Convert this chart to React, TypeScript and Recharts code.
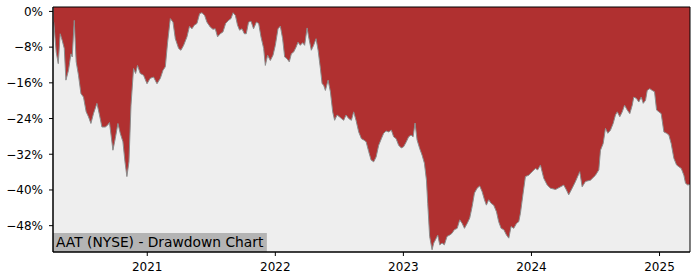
import React from "react";
import { Area, AreaChart, CartesianGrid, ReferenceArea, XAxis, YAxis } from "recharts";

// decimal year of each sample
const years = [
  2020.27, 2020.289, 2020.305, 2020.32, 2020.336, 2020.352, 2020.365, 2020.385, 2020.404, 2020.414,
  2020.43, 2020.445, 2020.463, 2020.482, 2020.502, 2020.523, 2020.541, 2020.56, 2020.58, 2020.607,
  2020.627, 2020.646, 2020.672, 2020.69, 2020.705, 2020.719, 2020.732, 2020.75, 2020.771, 2020.789,
  2020.81, 2020.826, 2020.841, 2020.857, 2020.873, 2020.893, 2020.909, 2020.924, 2020.945, 2020.971,
  2020.998, 2021.023, 2021.049, 2021.076, 2021.102, 2021.123, 2021.141, 2021.159, 2021.18, 2021.201,
  2021.219, 2021.245, 2021.263, 2021.284, 2021.31, 2021.33, 2021.349, 2021.367, 2021.388, 2021.409,
  2021.427, 2021.448, 2021.466, 2021.492, 2021.513, 2021.531, 2021.549, 2021.57, 2021.591, 2021.612,
  2021.635, 2021.654, 2021.67, 2021.688, 2021.705, 2021.721, 2021.74, 2021.758, 2021.773, 2021.791,
  2021.81, 2021.83, 2021.852, 2021.87, 2021.888, 2021.909, 2021.922, 2021.94, 2021.961, 2021.982,
  2022.0, 2022.021, 2022.039, 2022.057, 2022.073, 2022.091, 2022.109, 2022.125, 2022.143, 2022.162,
  2022.177, 2022.195, 2022.213, 2022.229, 2022.248, 2022.26, 2022.281, 2022.299, 2022.318, 2022.334,
  2022.352, 2022.365, 2022.377, 2022.391, 2022.412, 2022.43, 2022.448, 2022.463, 2022.482, 2022.5,
  2022.516, 2022.534, 2022.552, 2022.573, 2022.594, 2022.612, 2022.63, 2022.651, 2022.672, 2022.69,
  2022.709, 2022.729, 2022.748, 2022.768, 2022.787, 2022.807, 2022.828, 2022.846, 2022.865, 2022.885,
  2022.906, 2022.924, 2022.943, 2022.963, 2022.984, 2023.002, 2023.023, 2023.041, 2023.06, 2023.076,
  2023.091, 2023.107, 2023.127, 2023.146, 2023.164, 2023.18, 2023.19, 2023.205, 2023.224, 2023.237,
  2023.25, 2023.268, 2023.284, 2023.302, 2023.32, 2023.341, 2023.362, 2023.38, 2023.398, 2023.42,
  2023.44, 2023.459, 2023.477, 2023.498, 2023.518, 2023.537, 2023.555, 2023.576, 2023.596, 2023.615,
  2023.633, 2023.648, 2023.666, 2023.685, 2023.705, 2023.727, 2023.744, 2023.763, 2023.784, 2023.805,
  2023.823, 2023.841, 2023.862, 2023.883, 2023.901, 2023.914, 2023.935, 2023.953, 2023.979, 2024.005,
  2024.031, 2024.049, 2024.07, 2024.096, 2024.123, 2024.148, 2024.188, 2024.227, 2024.252, 2024.273,
  2024.291, 2024.318, 2024.344, 2024.377, 2024.396, 2024.422, 2024.461, 2024.5, 2024.526, 2024.539,
  2024.56, 2024.578, 2024.596, 2024.617, 2024.638, 2024.656, 2024.67, 2024.69, 2024.709, 2024.727,
  2024.748, 2024.768, 2024.787, 2024.799, 2024.82, 2024.838, 2024.857, 2024.873, 2024.891, 2024.904,
  2024.924, 2024.943, 2024.961, 2024.977, 2024.995, 2025.013, 2025.034, 2025.055, 2025.073, 2025.091,
  2025.112, 2025.133, 2025.151, 2025.17, 2025.19, 2025.203, 2025.221, 2025.242,
];

// drawdown from the running peak, in percent
const drawdown = [
  -2.4, -9.1, -11.7, -5.0, -6.5, -8.3, -15.4, -13.2, -9.5, -10.2,
  -2.0, -11.3, -14.3, -18.4, -19.2, -22.5, -23.6, -25.1, -22.9, -20.6,
  -23.2, -25.9, -25.9, -25.5, -24.9, -28.1, -31.1, -28.5, -25.1, -27.3,
  -29.2, -33.7, -37.0, -33.7, -21.0, -12.8, -13.9, -12.1, -13.9, -14.3,
  -16.2, -15.0, -14.7, -16.2, -15.0, -13.2, -12.4, -6.9, -1.6, -2.4,
  -6.1, -8.3, -8.7, -7.6, -5.7, -3.3, -3.9, -3.1, -2.7, -0.5,
  -0.3, -0.9, -2.4, -3.5, -4.0, -3.9, -5.7, -5.0, -4.6, -2.7,
  -2.0, -1.6, -0.3, -0.9, -3.1, -4.2, -3.9, -5.0, -5.0, -2.4,
  -2.2, -3.9, -2.4, -2.7, -5.7, -8.3, -12.1, -9.8, -11.0, -9.8,
  -7.6, -3.9, -3.3, -6.1, -10.2, -10.6, -11.3, -9.5, -9.1, -8.0,
  -6.9, -7.6, -7.0, -7.6, -3.7, -5.7, -8.7, -7.6, -6.1, -8.7,
  -12.8, -16.2, -16.5, -17.7, -15.4, -18.0, -22.5, -24.4, -23.2, -23.6,
  -24.0, -24.4, -23.2, -24.0, -24.4, -22.5, -24.4, -27.0, -28.5, -28.8,
  -29.2, -31.4, -33.3, -33.7, -32.6, -30.0, -28.5, -27.3, -26.8, -27.0,
  -26.6, -28.1, -28.5, -30.0, -30.6, -30.3, -29.2, -28.1, -27.7, -28.1,
  -25.0, -28.8, -30.7, -32.2, -34.0, -37.8, -43.0, -50.4, -53.4, -51.9,
  -51.2, -50.1, -52.3, -51.9, -52.3, -50.4, -50.1, -49.7, -48.9, -48.6,
  -46.7, -47.5, -48.6, -47.5, -46.3, -43.7, -40.7, -39.6, -39.1, -40.4,
  -42.2, -43.4, -42.2, -43.0, -43.4, -44.9, -47.1, -48.6, -48.9, -50.1,
  -50.8, -48.2, -48.6, -47.5, -47.1, -45.2, -40.7, -37.0, -36.7, -35.9,
  -35.2, -35.5, -34.4, -37.4, -38.9, -39.6, -39.9, -39.3, -38.9, -40.0,
  -41.1, -39.6, -38.1, -35.9, -39.3, -38.1, -37.8, -36.7, -35.5, -31.1,
  -29.6, -26.2, -27.3, -26.6, -25.1, -23.2, -22.5, -23.6, -22.5, -21.0,
  -22.1, -22.9, -21.0, -19.2, -19.5, -20.3, -19.2, -20.6, -19.9, -17.7,
  -17.3, -17.7, -18.0, -22.1, -22.5, -22.9, -27.0, -27.3, -27.7, -29.6,
  -32.9, -34.4, -34.8, -35.2, -36.7, -38.5, -38.9, -38.7,
];

const yearTicks = [2021, 2022, 2023, 2024, 2025];
const pctTicks = [0, -8, -16, -24, -32, -40, -48];

const data = years.map((t, i) => ({ t, dd: drawdown[i] }));

const X_MIN = 2020.264;
const X_MAX = 2025.238;
const Y_MIN = -53.9;
const Y_MAX = 0.99;

const font = "DejaVu Sans, sans-serif";
const tickStyle = { fill: "#000", fontSize: 12, fontFamily: font };

const fmtPct = (v: number) => (v === 0 ? "0%" : `\u2212${Math.abs(v)}%`);

export default function App() {
  return (
    <div style={{ position: "absolute", left: 0, top: 0, width: 700, height: 280, background: "#fff" }}>
      <AreaChart width={700} height={280} data={data} margin={{ top: 7, right: 10, bottom: 0, left: 0 }}>
        <CartesianGrid fill="#eeeeee" horizontal={false} vertical={false} />
        <XAxis
          dataKey="t"
          type="number"
          domain={[X_MIN, X_MAX]}
          ticks={yearTicks}
          allowDataOverflow
          height={28}
          tickSize={4}
          tickMargin={6}
          tick={tickStyle}
          axisLine={{ stroke: "#000" }}
          tickLine={{ stroke: "#000" }}
        />
        <YAxis
          type="number"
          domain={[Y_MIN, Y_MAX]}
          ticks={pctTicks}
          allowDataOverflow
          width={53}
          tickSize={4}
          tickMargin={6}
          tickFormatter={fmtPct}
          tick={tickStyle}
          axisLine={{ stroke: "#000" }}
          tickLine={{ stroke: "#000" }}
        />
        <Area
          dataKey="dd"
          type="linear"
          baseValue="dataMax"
          fill="#b03030"
          fillOpacity={1}
          stroke="#8c8c8c"
          strokeWidth={1}
          isAnimationActive={false}
          dot={false}
          activeDot={false}
        />
        <ReferenceArea
          x1={X_MIN}
          x2={2021.934}
          y1={Y_MIN}
          y2={-49.64}
          fill="#b4b4b4"
          fillOpacity={1}
          stroke="none"
          label={{ value: "AAT (NYSE) - Drawdown Chart", position: "insideLeft", offset: 3, fill: "#000", fontSize: 13.8, fontFamily: font }}
        />
        <ReferenceArea x1={X_MIN} x2={X_MAX} y1={Y_MIN} y2={Y_MAX} fill="none" stroke="#000" strokeWidth={1} />
      </AreaChart>
    </div>
  );
}
